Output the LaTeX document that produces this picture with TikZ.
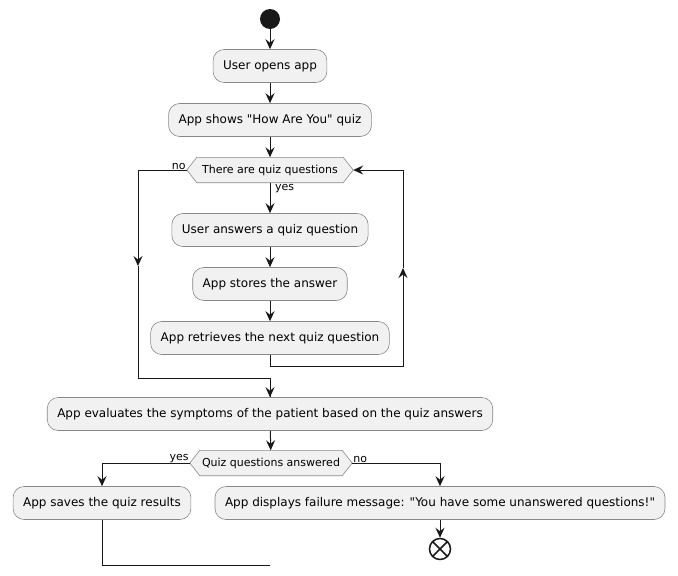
\documentclass[tikz,border=0pt]{standalone}
\usepackage{fontspec}
\setmainfont{DejaVu Sans}[Ligatures=TeXOff]
\usetikzlibrary{arrows.meta,backgrounds}
\definecolor{boxfill}{HTML}{F1F1F1}
\definecolor{boxline}{HTML}{888888}
\definecolor{ink}{HTML}{181818}
\tikzset{
  act/.style={draw=boxline, line width=0.6pt, fill=boxfill, rounded corners=11pt,
    minimum height=33pt, inner xsep=10pt, inner ysep=0pt,
    font=\fontsize{12}{14}\selectfont, text=black},
  cond/.style={inner xsep=12pt, inner ysep=0pt, minimum height=25pt,
    font=\fontsize{11}{13}\selectfont, text=black},
  lbl/.style={font=\fontsize{11}{13}\selectfont, text=black, inner sep=1pt},
  flow/.style={draw=ink, line width=1pt},
  arr/.style={flow, -{Stealth[length=10pt,width=9pt,inset=3.5pt]}},
}
\newcommand{\hexa}[1]{%
  \begin{scope}[on background layer]
  \filldraw[draw=boxline, line width=0.6pt, fill=boxfill]
    (#1.west) -- ([xshift=10pt]#1.north west) -- ([xshift=-10pt]#1.north east)
    -- (#1.east) -- ([xshift=-10pt]#1.south east) -- ([xshift=10pt]#1.south west) -- cycle;
  \end{scope}}
\begin{document}
\begin{tikzpicture}[x=1pt,y=-1pt]
\useasboundingbox (0,0) rectangle (678,576);

\node[circle, fill=ink, minimum size=20pt, inner sep=0pt] (start) at (270,19) {};
\node[act] (open) at (270,66) {User opens app};
\node[act] (show) at (270,120) {App shows "How Are You" quiz};
\node[cond, minimum width=166pt] (d1) at (270,170) {There are quiz questions};
\hexa{d1}
\node[act] (ans) at (270,230) {User answers a quiz question};
\node[act] (store) at (270,284) {App stores the answer};
\node[act] (ret) at (270,338) {App retrieves the next quiz question};
\node[act] (eval) at (270,414) {App evaluates the symptoms of the patient based on the quiz answers};
\node[cond, minimum width=162pt] (d2) at (271,463) {Quiz questions answered};
\hexa{d2}
\node[act] (save) at (102,503) {App saves the quiz results};
\node[act] (fail) at (440,503) {App displays failure message: "You have some unanswered questions!"};
\node[circle, draw=ink, line width=1.5pt, fill=white, minimum size=21pt, inner sep=0pt] (stop) at (440,549) {};
\draw[ink, line width=1.5pt] ([shift={(-7.4pt,7.4pt)}]stop.center) -- ([shift={(7.4pt,-7.4pt)}]stop.center)
  ([shift={(-7.4pt,-7.4pt)}]stop.center) -- ([shift={(7.4pt,7.4pt)}]stop.center);

\coordinate (lmid) at (138,266);
\coordinate (rmid) at (403,268);
\coordinate (joinl) at (138,378);
\coordinate (endj) at (270,565);

\draw[arr] (start) -- (open);
\draw[arr] (open) -- (show);
\draw[arr] (show) -- (d1);
\draw[arr] (d1) -- (ans);
\draw[arr] (ans) -- (store);
\draw[arr] (store) -- (ret);
\draw[arr] (d1.west) -| (lmid);
\draw[flow] (lmid) -- (joinl) -| (eval.north);
\draw[arr] (eval.north |- joinl) -- (eval.north);
\draw[arr] (ret.south) -- ++(0,12) -| (rmid);
\draw[arr] (rmid) |- (d1.east);
\draw[arr] (eval) -- (d2);
\draw[arr] (d2.west) -| (save.north);
\draw[arr] (d2.east) -| (fail.north);
\draw[flow] (save.south) |- (endj);
\draw[arr] (fail) -- (stop);

\node[lbl, anchor=south east] at ([yshift=-1pt]d1.west) {no};
\node[lbl, anchor=north west] at ([xshift=4pt]d1.south) {yes};
\node[lbl, anchor=south east] at ([yshift=-1pt]d2.west) {yes};
\node[lbl, anchor=south west] at ([yshift=-1pt]d2.east) {no};
\end{tikzpicture}
\end{document}
